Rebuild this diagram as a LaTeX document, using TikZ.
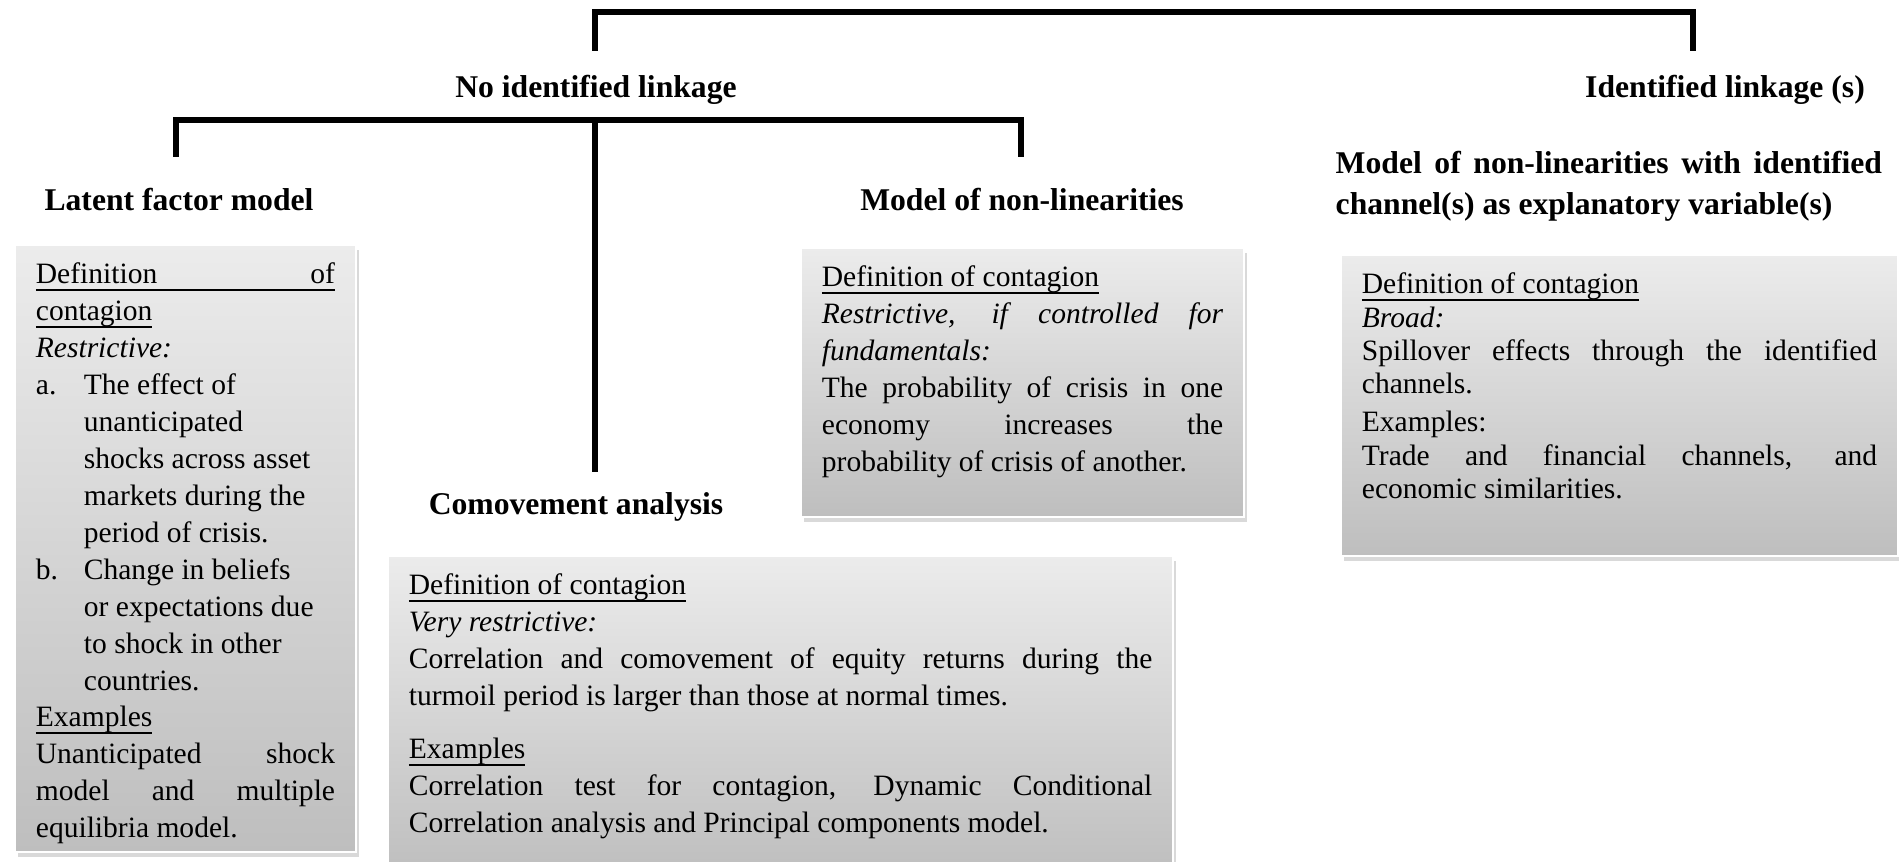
\documentclass[tikz,border=0pt]{standalone}
\usepackage{fontspec}
\setmainfont{Liberation Serif}
\usetikzlibrary{calc,shadows}

\tikzset{
  bar/.style={line width=1.6pt},
  head/.style={font=\fontsize{9}{11.4}\selectfont\bfseries,inner sep=0pt},
  card/.style={anchor=north west,inner xsep=0.21cm,inner ysep=0.12cm,
    draw=white,line width=0.5pt,top color=gray!15,bottom color=gray!51,
    drop shadow={shadow xshift=0.03cm,shadow yshift=-0.05cm,opacity=0.3},
    font=\fontsize{8.4}{10.5}\selectfont}
}
% underlined word, rule crossing the descenders
\newcommand{\ul}[1]{\leavevmode\setbox0\hbox{#1}\rlap{\rule[-0.07cm]{\wd0}{0.5pt}}\box0}
% stretchable underlined gap
\newcommand{\ulgap}{\leaders\hrule height \dimexpr0.5pt-0.07cm\relax depth 0.07cm\hfill}
% width, height, text of a card
\newcommand{\cardtext}[3]{\parbox[t][#2][t]{#1}{\rule{0pt}{0.27cm}#3}}
\newcommand{\listitem}[2]{\par\hangindent=0.48cm\hangafter=1\makebox[0.48cm][l]{#1}#2\par}

\begin{document}
\begin{tikzpicture}[x=0.01cm,y=-0.01cm]
\path[use as bounding box] (0,0) rectangle (1899,862);
\clip (0,0) rectangle (1899,862);

% headings
\node[head] (noLink) at (596,90) {No identified linkage};
\node[head] (idLink) at (1725,90) {Identified linkage (s)};
\node[head] (latent) at (179,200) {Latent factor model};
\node[head] (nonLin) at (1022,200) {Model of non-linearities};
\node[head] (comove) at (576,507) {Comovement analysis};
\node[head,anchor=north west,align=justify,text width=5.46cm] (nonLinCh) at (1335,151)
  {Model of non-linearities with identified\linebreak channel(s) as explanatory variable(s)};

% brackets
\draw[bar] ($(noLink)+(-1,-39)$) |- ($(idLink)+(-32,-78)$) -- ++(0,39);
\draw[bar] ($(latent)+(-3,-43)$) |- ($(nonLin)+(-1,-80)$) -- ++(0,37);
\draw[bar] ($(noLink)+(-1,30)$) -- ($(comove)+(19,-35)$);

% cards
\node[card] (latentBox) at (14,244) {\cardtext{2.99cm}{5.83cm}{%
\ul{Definition}\ulgap\ul{of}\\
\ul{contagion}\\
\textit{Restrictive:}
\listitem{a.}{The effect of\newline unanticipated\newline shocks across asset\newline markets during the\newline period of crisis.}
\listitem{b.}{Change in beliefs\newline or expectations due\newline to shock in other\newline countries.}
\ul{Examples}\\
Unanticipated shock\linebreak model and multiple\linebreak equilibria model.}};

\node[card] (comoveBox) at (387,555) {\cardtext{7.43cm}{2.96cm}{%
\ul{Definition of contagion}\\
\textit{Very restrictive:}\\
Correlation and comovement of equity returns during the\linebreak turmoil period is larger than those at normal times.\par
\vspace{0.16cm}
\ul{Examples}\\
Correlation test for contagion, Dynamic Conditional\linebreak Correlation analysis and Principal components model.}};

\node[card] (nonLinBox) at (800,247) {\cardtext{4.01cm}{2.45cm}{%
\ul{Definition of contagion}\\
\textit{Restrictive, if controlled for\linebreak fundamentals:}\\
The probability of crisis in one\linebreak economy increases the\linebreak probability of crisis of another.}};

\node[card,font=\fontsize{8.4}{9.45}\selectfont] (nonLinChBox) at (1340,254) {\cardtext{5.15cm}{2.77cm}{%
\ul{Definition of contagion}\\
\textit{Broad:}\\
Spillover effects through the identified\linebreak channels.\par
\vspace{0.05cm}
Examples:\\
Trade and financial channels, and\linebreak economic similarities.}};
\end{tikzpicture}
\end{document}
